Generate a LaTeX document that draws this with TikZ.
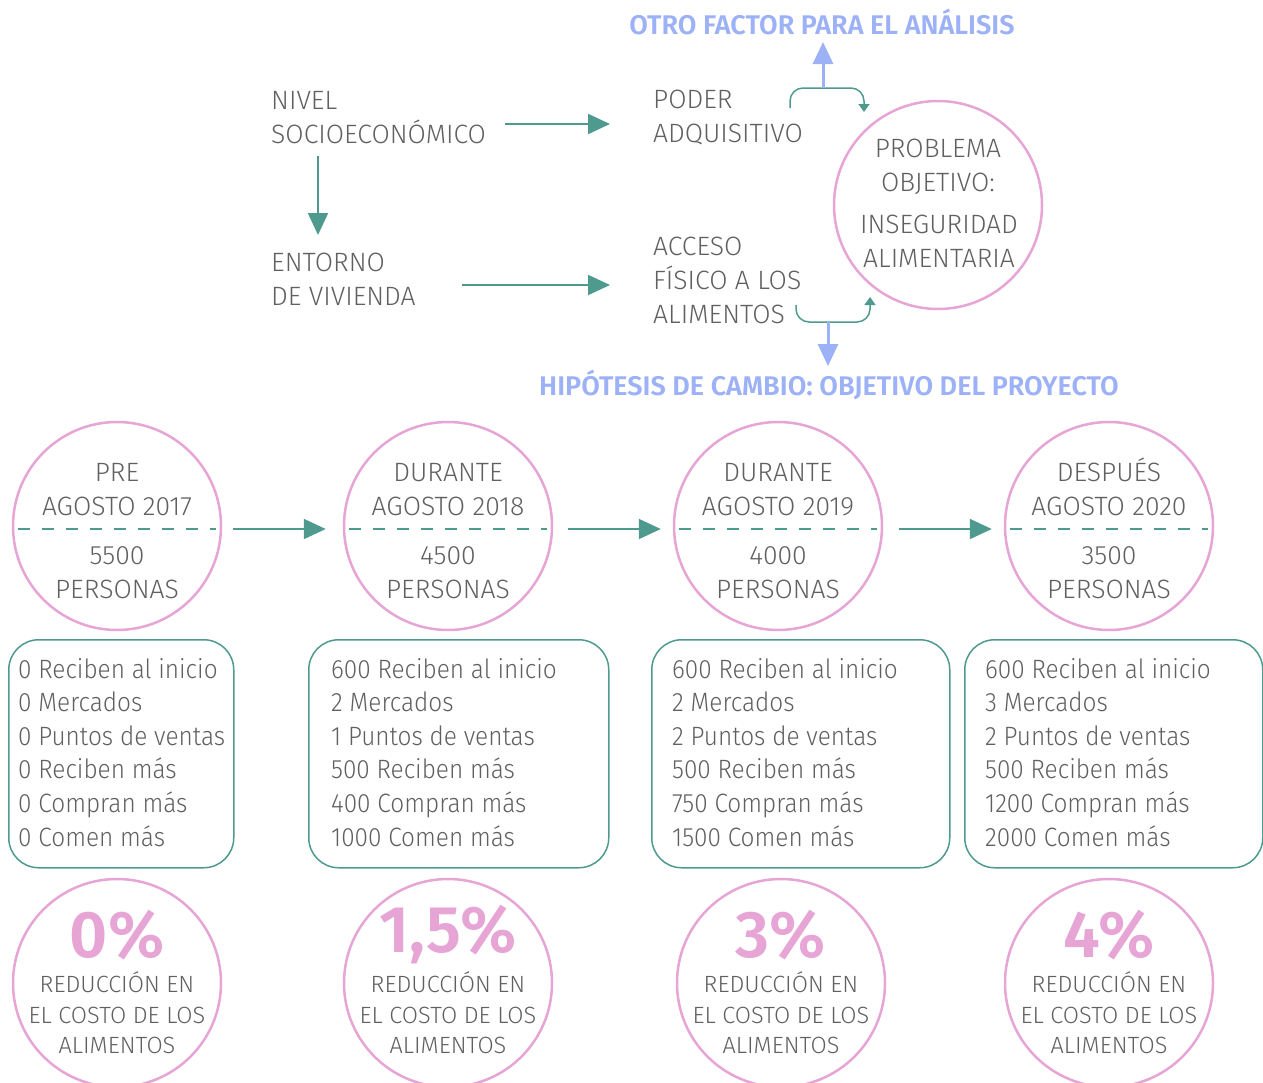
\documentclass[tikz,border=0pt]{standalone}
\usepackage{fontspec}
\setmainfont{Fira Sans Light}[BoldFont={Fira Sans SemiBold}]
\newfontfamily\bodyf{Fira Sans Light}[FakeStretch=0.92]
\usetikzlibrary{arrows.meta,calc}
\definecolor{txt}{HTML}{606060}
\definecolor{tealc}{HTML}{4E9A8E}
\definecolor{pinkc}{HTML}{E6A5D4}
\definecolor{bluec}{HTML}{9DB1F7}
\begin{document}
\begin{tikzpicture}[x=1pt,y=-1pt,
  lbl/.style={text=txt,font=\fontsize{26.5}{34}\selectfont,inner sep=0pt},
  lblc/.style={lbl,align=center},
  lbll/.style={lbl,align=left},
  btxt/.style={text=txt,font=\bodyf\fontsize{26.5}{33.6}\selectfont,inner sep=0pt,align=left,anchor=north west},
  small/.style={text=txt,font=\fontsize{23.5}{30.5}\selectfont,inner sep=0pt,align=center},
  pct/.style={text=pinkc,font=\fontsize{66}{66}\selectfont\bfseries,inner sep=0pt},
  head/.style={text=bluec,font=\fontsize{27}{30}\selectfont\bfseries,inner sep=0pt},
  ring/.style={circle,draw=pinkc,line width=2.5pt,minimum size=208pt,inner sep=0pt},
  arr/.style={draw=tealc,line width=2pt,-{Triangle[length=22pt,width=20pt]}},
  barr/.style={draw=bluec,line width=3pt,-{Triangle[length=22pt,width=20pt]}},
  carr/.style={draw=tealc,line width=1.5pt,rounded corners=13pt,-{Triangle[length=8pt,width=11pt]}},
  dline/.style={draw=tealc,line width=1.5pt,dash pattern=on 12pt off 12pt},
  box/.style={draw=tealc,line width=1.5pt,rounded corners=30pt,inner sep=0pt}]
\useasboundingbox (0,0) rectangle (1263,1082);

% ---------- top part ----------
\node[head] (otro) at (822,22) {OTRO FACTOR PARA EL ANÁLISIS};
\node[head] (hipo) at (829,385) {HIPÓTESIS DE CAMBIO: OBJETIVO DEL PROYECTO};

\node[lbll,anchor=west] (nivel) at (271,118) {NIVEL\\SOCIOECONÓMICO};
\node[lbll,anchor=west] (entorno) at (271,279) {ENTORNO\\DE VIVIENDA};
\node[lbll,anchor=west] (poder) at (653,118) {PODER\\ADQUISITIVO};
\node[lbll,anchor=west] (acceso) at (653,280) {ACCESO\\FÍSICO A LOS\\ALIMENTOS};

\node[ring,minimum size=208pt] (prob) at (938,205) {};
\node[lblc] (prob1) at (938,167) {PROBLEMA\\OBJETIVO:};
\node[lblc] (prob2) at (939,241) {INSEGURIDAD\\ALIMENTARIA};

\draw[arr] (505,124) coordinate (n1) -- (610,124) coordinate (n2);
\draw[arr] (318,156) coordinate (n3) -- (318,235) coordinate (n4);
\draw[arr] (462,285) coordinate (e1) -- (610,285) coordinate (e2);

\coordinate (cu0) at (790,108);
\coordinate (cu1) at (823,88);
\coordinate (cu2) at (864,112);
\draw[carr] (cu0) -- (790,88) -- (864,88) -- (cu2);
\draw[barr] (cu1) -- (823,42);

\coordinate (cd0) at (796,305);
\coordinate (cd1) at (828,322);
\coordinate (cd2) at (870,297);
\draw[carr] (cd0) -- (796,322) -- (870,322) -- (cd2);
\draw[barr] (cd1) -- (828,366);

% ---------- timeline circles ----------
\foreach \i/\x/\a/\b/\n in {1/117/PRE/2017/5500, 2/448/DURANTE/2018/4500, 3/778/DURANTE/2019/4000, 4/1109/DESPUÉS/2020/3500}{
  \node[ring] (t\i) at (\x,526) {};
  \node[lblc] (ta\i) at (\x,487) {\vphantom{É}\a\\AGOSTO \b};
  \node[lblc] (tb\i) at (\x,573) {\n\\PERSONAS};
  \draw[dline] ($(t\i.west)+(6,3)$) -- ($(t\i.east)+(-6,3)$);
}
\draw[arr] ($(t1.east)+(11,3)$) -- ($(t2.west)+(-17,3)$);
\draw[arr] ($(t2.east)+(15,3)$) -- ($(t3.west)+(-12,3)$);
\draw[arr] ($(t3.east)+(16,3)$) -- ($(t4.west)+(-12,3)$);

% ---------- boxes ----------
\node[box,minimum width=225pt,minimum height=228pt,anchor=north west] (b1) at (8,639) {};
\node[box,minimum width=300pt,minimum height=228pt,anchor=north west] (b2) at (308,639) {};
\node[box,minimum width=298pt,minimum height=228pt,anchor=north west] (b3) at (651,639) {};
\node[box,minimum width=298pt,minimum height=228pt,anchor=north west] (b4) at (964,639) {};

\node[btxt] (x1) at (18,658) {0 Reciben al inicio\\0 Mercados\\0 Puntos de ventas\\0 Reciben más\\0 Compran más\\0 Comen más};
\node[btxt] (x2) at (331,658) {600 Reciben al inicio\\2 Mercados\\1 Puntos de ventas\\500 Reciben más\\400 Compran más\\1000 Comen más};
\node[btxt] (x3) at (672,658) {600 Reciben al inicio\\2 Mercados\\2 Puntos de ventas\\500 Reciben más\\750 Compran más\\1500 Comen más};
\node[btxt] (x4) at (985,658) {600 Reciben al inicio\\3 Mercados\\2 Puntos de ventas\\500 Reciben más\\1200 Compran más\\2000 Comen más};

% ---------- result circles ----------
\foreach \i/\x/\p in {1/117/{0\%}, 2/448/{1,5\%}, 3/781/{3\%}, 4/1109/{4\%}}{
  \node[ring] (r\i) at (\x,983) {};
  \node[pct] (rp\i) at (\x,935) {\p};
  \node[small] (rt\i) at (\x,1013) {REDUCCIÓN EN\\EL COSTO DE LOS\\ALIMENTOS};
}
\end{tikzpicture}
\end{document}
